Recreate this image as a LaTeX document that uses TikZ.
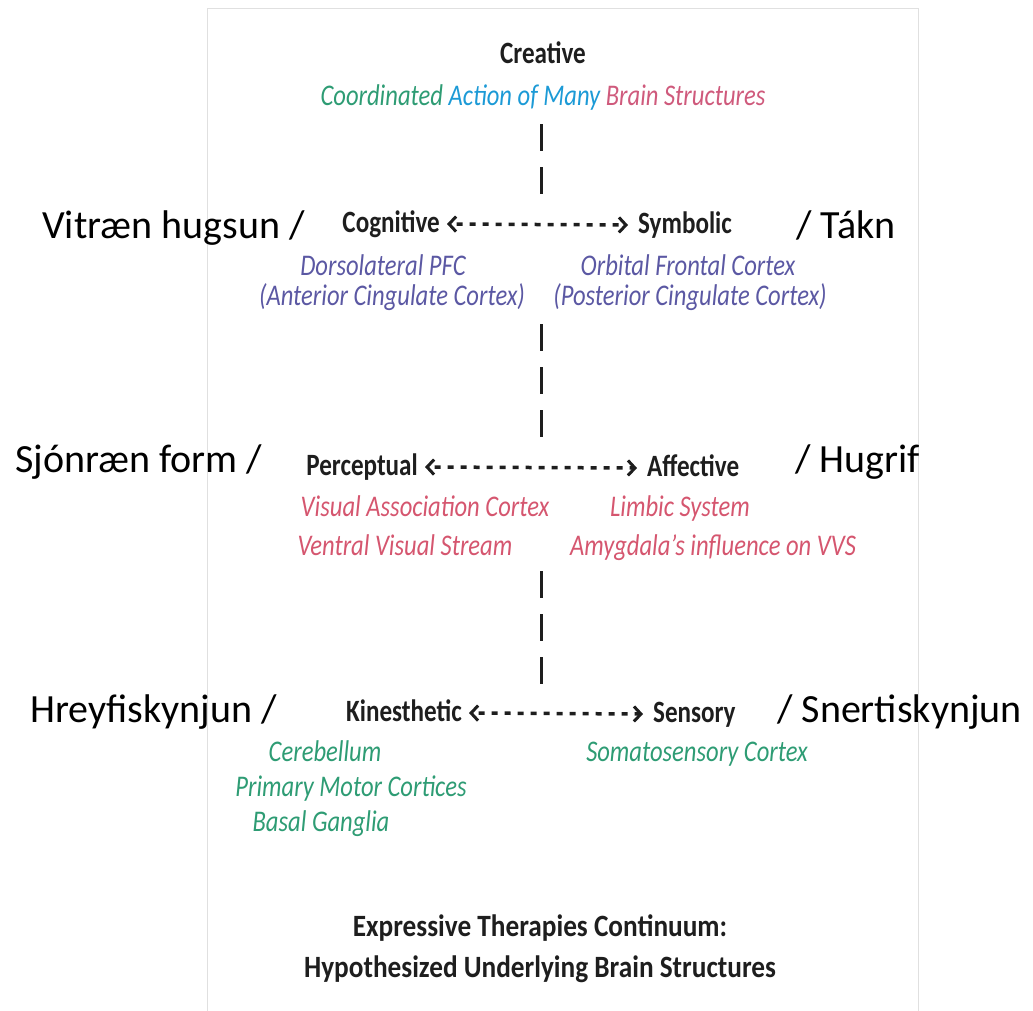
\documentclass[tikz,border=0pt]{standalone}
\usepackage{fontspec}
\setmainfont{Carlito}
\newfontfamily\levelfont[FakeStretch=0.81]{Carlito}
\newfontfamily\areafont[FakeStretch=0.82]{Carlito}
\newfontfamily\titlefont[FakeStretch=0.88]{Carlito}
\usetikzlibrary{arrows.meta}

\definecolor{ectgreen}{HTML}{2E9C74}
\definecolor{ectblue}{HTML}{1C9AD6}
\definecolor{ectpink}{HTML}{CF5A7C}
\definecolor{ectpurple}{HTML}{5B58A3}
\definecolor{ectred}{HTML}{D5566F}
\definecolor{ectink}{HTML}{1E1E1E}

\tikzset{
	level/.style={font=\levelfont\bfseries\fontsize{31}{33}\selectfont, text=ectink, inner sep=0pt},
	area/.style={font=\areafont\itshape\fontsize{30}{33}\selectfont, inner sep=0pt},
	heading/.style={font=\titlefont\bfseries\fontsize{31}{33}\selectfont, text=ectink, inner sep=0pt},
	icel/.style={font=\fontsize{40}{44}\selectfont, inner sep=0pt},
	link/.style={line width=3.5pt, ectink, dash pattern=on 6pt off 7pt, dash phase=7pt,
		{Straight Barb[length=7pt,width=15pt,line width=3pt]}-{Straight Barb[length=7pt,width=15pt,line width=3pt]}},
	bars/.style={line width=3pt, ectink, dash pattern=on 27pt off 16pt}
}

\begin{document}
\begin{tikzpicture}[x=1pt,y=-1pt]
	\useasboundingbox (0,0) rectangle (1033,1010);
	% the scanned page
	\draw [black!12, line width=1pt] (207,1012) -- (207,8) -- (918,8) -- (918,1012);

	\node [level, anchor=base] (cre) at (543,63) {Creative};
	\node [area, anchor=base] (coord) at (543,105) {\textcolor{ectgreen}{Coordinated} \textcolor{ectblue}{Action of Many} \textcolor{ectpink}{Brain Structures}};

	% cognitive / symbolic
	\node [level, anchor=base east] (cog) at (440,232) {Cognitive};
	\node [level, anchor=base west] (sym) at (638,233) {Symbolic};
	\node [icel, anchor=base west] (cogis) at (42,238) {Vitræn hugsun /};
	\node [icel, anchor=base west] (symis) at (796,238) {/ Tákn};
	\node [area, text=ectpurple, anchor=base] (cog1) at (383,275) {Dorsolateral PFC};
	\node [area, text=ectpurple, anchor=base] (cog2) at (392,305) {(Anterior Cingulate Cortex)};
	\node [area, text=ectpurple, anchor=base] (sym1) at (688,275) {Orbital Frontal Cortex};
	\node [area, text=ectpurple, anchor=base] (sym2) at (690,305) {(Posterior Cingulate Cortex)};

	% perceptual / affective
	\node [level, anchor=base east] (per) at (418,475) {Perceptual};
	\node [level, anchor=base west] (aff) at (647,476) {Affective};
	\node [icel, anchor=base west] (peris) at (15,472) {Sjónræn form /};
	\node [icel, anchor=base west] (affis) at (795,472) {/ Hugrif};
	\node [area, text=ectred, anchor=base] (per1) at (425,516) {Visual Association Cortex};
	\node [area, text=ectred, anchor=base] (per2) at (405,555) {Ventral Visual Stream};
	\node [area, text=ectred, anchor=base] (aff1) at (680,516) {Limbic System};
	\node [area, text=ectred, anchor=base] (aff2) at (713,555) {Amygdala’s influence on VVS};

	% kinesthetic / sensory
	\node [level, anchor=base east] (kin) at (462,721) {Kinesthetic};
	\node [level, anchor=base west] (sen) at (653,722) {Sensory};
	\node [icel, anchor=base west] (kinis) at (30,722) {Hreyfiskynjun /};
	\node [icel, anchor=base west] (senis) at (777,722) {/ Snertiskynjun};
	\node [area, text=ectgreen, anchor=base] (kin1) at (325,761) {Cerebellum};
	\node [area, text=ectgreen, anchor=base] (kin2) at (351,796) {Primary Motor Cortices};
	\node [area, text=ectgreen, anchor=base] (kin3) at (321,831) {Basal Ganglia};
	\node [area, text=ectgreen, anchor=base] (sen1) at (697,761) {Somatosensory Cortex};

	\node [heading, anchor=base] (tit1) at (540,936) {Expressive Therapies Continuum:};
	\node [heading, anchor=base] (tit2) at (540,977) {Hypothesized Underlying Brain Structures};

	% horizontal links
	\draw [link] ([xshift=7pt,yshift=8pt]cog.base east) -- ([xshift=-10pt,yshift=8pt]sym.base west);
	\draw [link] ([xshift=7pt,yshift=8pt]per.base east) -- ([xshift=-10pt,yshift=8pt]aff.base west);
	\draw [link] ([xshift=7pt,yshift=8pt]kin.base east) -- ([xshift=-10pt,yshift=8pt]sen.base west);

	% vertical links
	\coordinate (v1) at (541,124);
	\coordinate (v2) at (541,195);
	\coordinate (v3) at (541,324);
	\coordinate (v4) at (541,437);
	\coordinate (v5) at (541,571);
	\coordinate (v6) at (541,685);
	\draw [bars] (v1) -- (v2);
	\draw [bars] (v3) -- (v4);
	\draw [bars] (v5) -- (v6);
\end{tikzpicture}
\end{document}
